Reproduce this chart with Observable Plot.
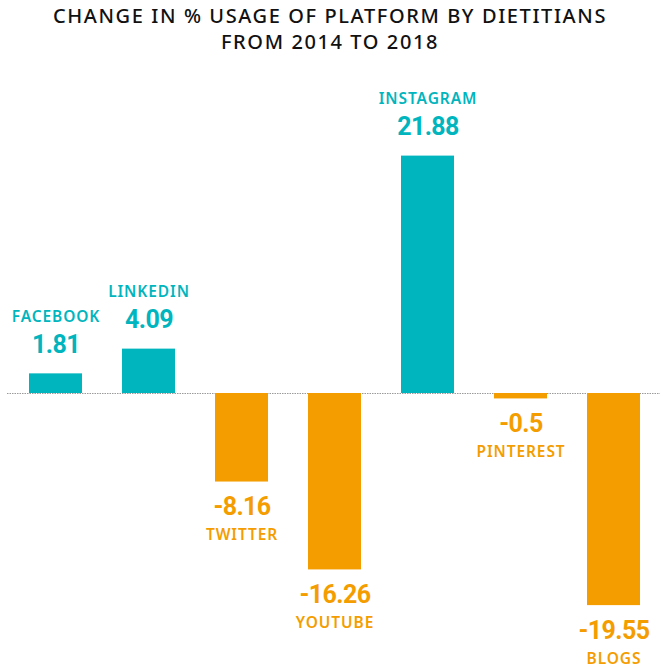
<!DOCTYPE html>
<html>
<head>
<meta charset="utf-8">
<script src="https://cdn.jsdelivr.net/npm/d3@7"></script>
<script src="https://cdn.jsdelivr.net/npm/@observablehq/plot@0.6"></script>
<style>
  html, body { margin: 0; padding: 0; background: #fff; }
  #title {
    width: 660px; height: 60px; box-sizing: border-box; padding-top: 3px;
    text-align: center; font-family: "Noto Sans", sans-serif; font-size: 20px;
    line-height: 26px; color: #111; font-weight: 500; letter-spacing: 1.6px;
  }
  svg { display: block; }
</style>
</head>
<body>
<div id="title">CHANGE IN % USAGE OF PLATFORM BY DIETITIANS<br>FROM 2014 TO 2018</div>
<div id="chart"></div>
<script>
const categories = ["FACEBOOK", "LINKEDIN", "TWITTER", "YOUTUBE", "INSTAGRAM", "PINTEREST", "BLOGS"];
const values = [1.81, 4.09, -8.16, -16.26, 21.88, -0.5, -19.55];
const valueLabels = ["1.81", "4.09", "-8.16", "-16.26", "21.88", "-0.5", "-19.55"];

const TEAL = "#00b5bd";
const ORANGE = "#f49d00";

const data = categories.map((c, i) => ({
  platform: c, value: values[i], label: valueLabels[i],
  pos: values[i] >= 0
}));
const posData = data.filter(d => d.pos);
const negData = data.filter(d => !d.pos);

const font = "Noto Sans, sans-serif";
const k = 10.85;

const chart = Plot.plot({
  width: 660,
  height: 610,
  marginLeft: 7, marginRight: 0, marginTop: 0, marginBottom: 0,
  x: { domain: categories, range: [9, 660], paddingInner: 0.43, paddingOuter: 0.215, axis: null },
  y: { domain: [-25, 30], range: [333 + 25 * k, 333 - 30 * k], axis: null },
  style: { fontFamily: font, background: "#fff" },
  marks: [
    Plot.ruleY([0], { stroke: "#9a9a9a", strokeWidth: 1, strokeDasharray: "1.5,1" }),
    Plot.barY(data, { x: "platform", y: "value", fill: d => d.pos ? TEAL : ORANGE }),
    Plot.text(posData, { x: "platform", y: "value", text: "label", dy: -29, fill: TEAL,
      fontSize: 25, fontWeight: 700, fontFamily: "Roboto, sans-serif", lineAnchor: "middle" }),
    Plot.text(posData, { x: "platform", y: "value", text: "platform", dy: -57, fill: TEAL,
      fontSize: 15.5, fontWeight: 600, fontFamily: font, lineAnchor: "middle" }),
    Plot.text(negData, { x: "platform", y: "value", text: "label", dy: 25, fill: ORANGE,
      fontSize: 25, fontWeight: 700, fontFamily: "Roboto, sans-serif", lineAnchor: "middle" }),
    Plot.text(negData, { x: "platform", y: "value", text: "platform", dy: 53, fill: ORANGE,
      fontSize: 15.5, fontWeight: 600, fontFamily: font, lineAnchor: "middle" })
  ]
});
d3.select(chart).selectAll('g[aria-label="text"]').each(function () {
  const fs = +this.getAttribute("font-size");
  this.style.letterSpacing = fs > 20 ? "-0.6px" : "0.9px";
});
document.getElementById("chart").appendChild(chart);
</script>
</body>
</html>
